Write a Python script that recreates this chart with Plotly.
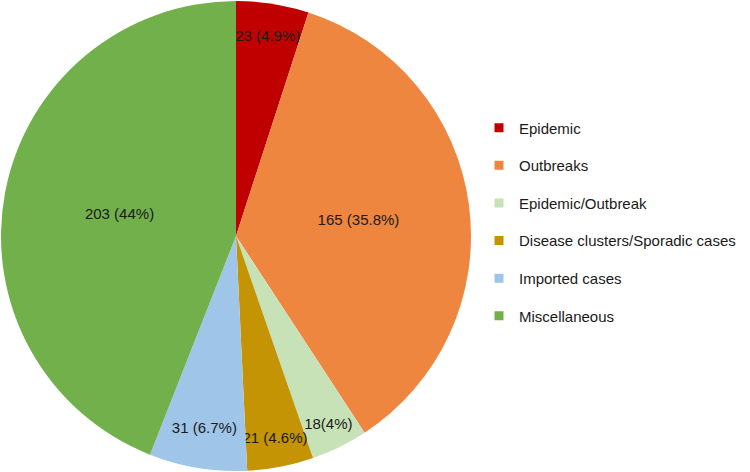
import plotly.graph_objects as go

categories = ["Epidemic", "Outbreaks", "Epidemic/Outbreak",
              "Disease clusters/Sporadic cases", "Imported cases", "Miscellaneous"]
values = [23, 165, 18, 21, 31, 203]
slice_text = ["23 (4.9%)", "165 (35.8%)", "18(4%)", "21 (4.6%)", "31 (6.7%)", "203 (44%)"]
colors = ["#C00000", "#EF8640", "#C8E2B8", "#C49405", "#9FC5E8", "#72B04C"]

FONT = "Liberation Sans, Arial, sans-serif"

fig = go.Figure()
fig.add_trace(go.Pie(
    labels=categories,
    values=values,
    text=slice_text,
    textinfo="text",
    textposition="inside",
    insidetextorientation="horizontal",
    sort=False,
    direction="clockwise",
    rotation=0,
    marker=dict(colors=colors, line=dict(color="white", width=0)),
    textfont=dict(family=FONT, size=15, color="#1a1a1a"),
    domain=dict(x=[1/750, 471/750], y=[0, 1]),
    showlegend=False,
    hoverinfo="label+value+percent",
))

# legend entries (one per category) so the legend spacing can match the reference
for i, (name, col) in enumerate(zip(categories, colors)):
    fig.add_trace(go.Scatter(
        x=[None], y=[None], mode="markers", name=name,
        marker=dict(symbol="square", size=9, color=col),
        legendgroup=f"g{i}", showlegend=True,
    ))

fig.update_layout(
    width=750, height=472,
    margin=dict(l=0, r=0, t=0, b=0, autoexpand=False),
    paper_bgcolor="white",
    plot_bgcolor="white",
    xaxis=dict(visible=False),
    yaxis=dict(visible=False),
    uniformtext=dict(minsize=15, mode="show"),
    legend=dict(
        x=479/750, y=1 - 222/472, xanchor="left", yanchor="middle",
        font=dict(family=FONT, size=15, color="#1a1a1a"),
        itemwidth=30,
        tracegroupgap=15.1,
        traceorder="grouped",
        bgcolor="rgba(0,0,0,0)",
    ),
)

fig.write_html("out.html", config={"displayModeBar": False},
               post_script="document.body.style.margin='0';")
